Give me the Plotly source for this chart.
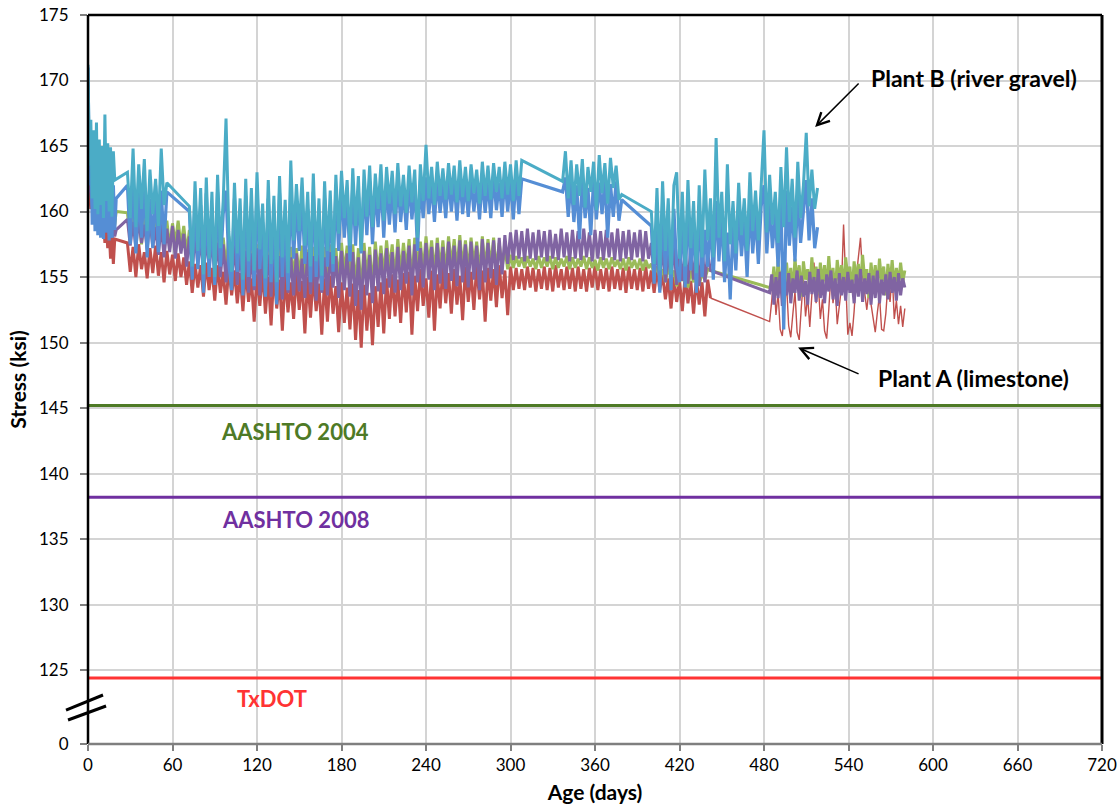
import plotly.graph_objects as go

# ---------------- data (Age in days, Stress in ksi) ----------------
# each segment: (start_day, step_days, values)
red_seg1 = [163.0, 161.5, 160.2, 160.8, 159.6, 160.1, 159.0, 159.6, 158.5, 159.3, 158.2, 159.2, 157.6, 158.8,
            157.2, 158.6, 156.4, 158.2, 156.0, 157.9]
red_seg2 = [157.6, 155.4, 157.3, 155.0, 157.5, 155.6, 156.9, 154.9, 157.2, 155.3,
            157.4, 155.1, 156.9, 154.6, 157.0, 155.2, 156.7, 154.7, 156.8, 155.0,
            156.5, 154.4, 156.2, 153.8, 156.0, 154.2, 155.9, 153.5, 156.1, 154.0,
            155.7, 153.2, 155.9, 153.8, 155.4, 152.9, 155.8, 153.6, 155.5, 153.0,
            155.3, 152.4, 155.6, 153.1, 154.9, 151.6, 155.2, 152.8, 155.5, 152.2,
            155.0, 151.3, 155.4, 152.6, 154.8, 150.9, 155.1, 152.3, 154.6, 151.8,
            155.3, 152.5, 154.7, 150.7, 155.0, 151.9, 155.2, 152.4, 154.5, 150.6,
            154.9, 151.6, 155.1, 152.2, 154.3, 150.8, 154.6, 151.5, 154.2, 151.0,
            154.5, 150.2, 154.0, 149.6, 154.4, 150.9, 153.8, 149.8, 154.3, 151.2,
            154.6, 150.7, 154.9, 151.8, 155.2, 152.0, 154.8, 151.5, 155.3, 152.3,
            155.4, 150.6, 155.1, 152.4, 155.6, 152.8, 154.9, 151.9, 155.5, 150.9,
            155.2, 152.6, 155.7, 153.0, 155.3, 152.2, 155.6, 152.9, 155.1, 151.7,
            155.8, 153.1, 155.4, 152.5, 155.9, 153.3, 155.5, 151.6, 155.7, 153.2,
            155.6, 152.7, 155.9, 153.4, 155.5, 152.1, 155.8, 154.0, 155.7, 154.1,
            155.6, 154.0, 155.8, 154.2, 155.7, 153.9, 155.6, 154.1, 155.8, 154.0,
            155.7, 153.9, 155.9, 154.2, 155.6, 154.0, 155.8, 154.1, 155.7, 153.9,
            155.8, 154.1, 155.6, 153.9, 155.7, 154.2, 155.9, 154.0, 155.6, 154.1,
            155.7, 153.9, 155.8, 154.1, 155.6, 154.0, 155.7, 153.8, 155.8, 154.1,
            155.6, 154.0, 155.7, 153.9, 155.8, 154.1, 155.5, 153.8, 155.6, 154.0,
            155.2, 153.3, 154.9, 152.6, 155.0, 153.1, 154.8, 152.4, 155.1, 153.0,
            154.7, 152.2, 154.9, 152.9, 154.6, 152.0, 154.8, 153.4]
red_seg3 = [151.6, 153.2, 155.0, 152.1, 153.8, 151.0, 150.5, 152.6, 154.5, 151.3,
            150.4, 152.2, 153.9, 150.8, 150.2, 152.7, 154.8, 152.0, 153.5, 151.2,
            154.0, 156.1, 153.0, 154.6, 151.8, 153.3, 150.9, 150.3, 152.5, 155.2,
            153.0, 154.4, 151.4, 152.6, 154.2, 159.0, 154.0, 150.6, 151.5, 150.5,
            152.4, 155.0, 156.5, 158.0, 155.1, 153.7, 152.5, 154.0, 152.9, 151.6,
            150.8, 152.3, 153.6, 151.0, 150.9, 152.2, 154.5, 153.1, 155.3, 151.8,
            153.2, 151.4, 152.8, 151.2, 152.6]

green_seg1 = [169.7, 163.2, 162.8, 161.6, 161.0, 160.6, 160.5, 160.0, 160.2, 159.6, 159.9, 159.4, 159.8,
              159.3, 159.6, 159.2, 159.5, 159.1, 159.4, 159.0, 160.0]
green_seg2 = [159.9, 157.8, 160.0, 158.0, 159.7, 157.5, 159.8, 157.9, 159.5, 157.6,
              159.4, 157.3, 159.2, 157.6, 159.3, 157.2, 159.1, 157.5, 159.3, 157.4,
              158.9, 156.8, 158.6, 156.5, 158.7, 156.9, 158.4, 156.3, 158.5, 156.6,
              158.2, 156.1, 158.4, 156.4, 158.0, 155.8, 158.1, 156.0, 157.8, 155.6,
              157.9, 155.5, 157.6, 155.2, 157.8, 155.6, 157.5, 155.0, 157.7, 155.4,
              157.4, 154.8, 157.6, 155.3, 157.2, 154.6, 157.5, 155.1, 157.3, 154.9,
              157.2, 155.0, 157.4, 154.7, 157.1, 155.2, 157.3, 154.5, 157.0, 154.9,
              157.3, 155.1, 157.5, 155.4, 157.2, 154.6, 157.6, 155.3, 157.4, 154.8,
              157.5, 154.2, 157.2, 153.6, 157.6, 154.9, 157.3, 154.0, 157.7, 155.2,
              157.4, 155.0, 157.8, 155.5, 157.5, 154.8, 157.9, 155.3, 157.6, 155.6,
              157.9, 154.5, 158.0, 155.8, 157.7, 155.4, 158.1, 155.9, 157.8, 155.2,
              158.0, 155.6, 157.8, 155.3, 158.1, 155.8, 157.9, 155.5, 158.2, 155.7,
              157.8, 155.4, 158.0, 155.9, 157.7, 155.2, 158.1, 155.6, 157.9, 155.8,
              158.0, 155.5, 157.6, 155.7, 157.2, 155.6, 156.7, 155.7, 156.6, 155.8,
              156.5, 155.7, 156.6, 155.8, 156.4, 155.6, 156.6, 155.7, 156.5, 155.8,
              156.6, 155.6, 156.5, 155.7, 156.4, 155.8, 156.6, 155.6, 156.5, 155.7,
              156.4, 155.8, 156.6, 155.6, 156.5, 155.7, 156.3, 155.5, 156.5, 155.7,
              156.4, 155.6, 156.5, 155.8, 156.3, 155.6, 156.4, 155.5, 156.5, 155.7,
              156.3, 155.6, 156.4, 155.5, 156.3, 155.7, 156.0, 155.2, 155.8, 155.0,
              155.6, 154.6, 155.8, 154.9, 155.5, 154.3, 155.6, 154.7, 155.4, 154.2,
              155.5, 154.6, 155.7, 154.4, 155.3, 154.8, 155.6, 155.5]
green_seg3 = [154.2, 154.0, 155.8, 153.6, 156.3, 154.4, 155.5, 153.2, 156.1, 154.2,
              155.7, 153.8, 156.4, 154.6, 155.9, 153.5, 156.2, 154.8, 155.6, 153.9,
              156.5, 154.3, 155.8, 153.7, 156.1, 154.5, 155.9, 154.0, 156.6, 154.4,
              155.7, 153.6, 156.3, 154.7, 155.9, 154.1, 156.5, 154.9, 155.8, 153.8,
              156.2, 154.6, 156.0, 154.2, 156.7, 154.8, 155.6, 153.4, 156.1, 154.3,
              155.9, 154.0, 156.4, 154.7, 155.8, 153.6, 156.0, 154.5, 156.3, 154.2,
              155.7, 154.4, 156.1, 154.6, 155.5]

purple_seg1 = [165.0, 162.0, 161.4, 160.4, 160.8, 159.5, 160.2, 159.2, 159.8, 158.8, 159.5, 158.6, 159.2,
               158.4, 159.0, 158.2, 158.9, 158.0, 158.8, 158.1, 158.6]
purple_seg2 = [159.4, 157.4, 159.2, 157.2, 159.5, 157.6, 159.0, 157.1, 159.3, 157.3,
               158.8, 156.7, 159.0, 156.5, 158.7, 156.9, 158.9, 156.4, 158.6, 156.8,
               158.3, 155.8, 158.1, 155.5, 158.2, 155.9, 157.9, 155.4, 158.0, 155.7,
               157.8, 155.2, 157.6, 155.0, 157.5, 154.6, 157.3, 154.9, 157.4, 154.4,
               157.1, 154.2, 157.0, 153.8, 156.8, 154.0, 157.2, 153.6, 156.9, 154.1,
               156.7, 153.5, 157.0, 154.0, 156.6, 153.3, 156.9, 153.8, 156.5, 153.6,
               156.8, 153.9, 156.4, 153.4, 156.9, 153.7, 156.6, 153.2, 156.7, 153.8,
               156.5, 153.6, 156.9, 154.2, 156.6, 153.4, 157.0, 154.0, 156.8, 153.5,
               156.9, 152.8, 156.5, 152.5, 157.0, 153.6, 156.7, 153.0, 157.1, 153.9,
               156.8, 153.7, 157.2, 154.2, 156.9, 153.8, 157.3, 154.0, 157.0, 154.5,
               157.4, 153.6, 157.5, 154.6, 157.2, 154.2, 157.6, 154.8, 157.3, 154.0,
               157.6, 154.5, 157.3, 154.1, 157.7, 154.7, 157.4, 154.3, 157.8, 154.6,
               157.5, 154.2, 157.7, 154.8, 157.4, 154.0, 157.9, 154.6, 157.6, 154.9,
               157.8, 154.4, 158.0, 155.2, 158.2, 156.0, 158.4, 156.3, 158.6, 156.4,
               158.5, 156.2, 158.7, 156.4, 158.4, 156.3, 158.6, 156.5, 158.5, 156.2,
               158.6, 156.4, 158.3, 156.3, 158.7, 156.5, 158.4, 156.2, 158.6, 156.4,
               158.5, 156.3, 158.7, 156.5, 158.4, 156.2, 158.6, 156.4, 158.5, 156.3,
               158.6, 156.5, 158.4, 156.3, 158.7, 156.2, 158.5, 156.4, 158.6, 156.3,
               158.4, 156.5, 158.6, 156.2, 158.5, 156.4, 157.6, 155.0, 157.2, 154.8,
               157.4, 154.6, 157.0, 154.9, 157.5, 154.4, 157.2, 154.7, 156.9, 154.5,
               157.3, 154.8, 157.0, 154.3, 157.4, 154.6, 156.8, 155.5]
purple_seg3 = [153.8, 155.2, 152.9, 155.0, 153.4, 155.4, 152.8, 154.8, 153.6, 155.3,
               153.0, 154.9, 153.8, 155.5, 153.2, 155.1, 153.5, 154.7, 152.9, 155.4,
               153.7, 155.0, 153.1, 155.6, 153.4, 154.8, 153.0, 155.2, 153.9, 155.5,
               153.3, 154.9, 152.8, 155.3, 153.6, 155.0, 153.2, 155.4, 153.8, 154.8,
               153.0, 155.2, 153.5, 155.6, 153.1, 154.9, 153.7, 155.3, 152.9, 155.1,
               153.4, 155.5, 153.0, 154.8, 153.6, 155.2, 153.3, 155.4, 153.8, 155.0,
               153.2, 155.3, 153.6, 154.9, 154.2]

blue_seg1 = [171.0, 162.0, 165.5, 159.0, 164.0, 158.5, 163.8, 158.2, 165.0, 158.0, 163.0, 157.9, 164.2,
             158.4, 162.5, 157.8, 163.5, 158.0, 162.0, 158.6, 161.0]
blue_seg2 = [162.0, 157.5, 162.8, 156.8, 161.5, 158.0, 162.4, 156.5, 161.0, 157.2, 162.0, 156.9, 161.6,
             157.5, 161.5]
blue_seg3 = [160.0, 154.8, 161.2, 155.6, 160.5, 153.8, 161.4, 155.0, 160.2, 154.4,
             161.5, 155.8, 159.8, 161.6, 156.0, 154.0, 161.0, 155.4, 159.5, 153.6,
             161.2, 155.0, 160.4, 154.3, 161.5, 155.6, 159.2, 153.5, 161.0, 154.6,
             159.8, 152.9, 161.4, 155.0, 159.6, 154.0, 161.8, 156.4, 160.8, 157.0,
             161.2, 156.0, 160.2, 154.6, 161.5, 155.0, 159.8, 154.0, 161.0, 155.8,
             160.4, 155.4, 161.5, 157.0, 161.8, 158.0, 161.2, 156.2, 162.0, 157.4,
             161.5, 156.8, 162.0, 158.2, 162.3, 157.5, 161.8, 158.8, 162.4, 158.0,
             162.2, 159.0, 161.9, 158.4, 162.5, 159.2, 161.7, 158.6, 162.3, 159.4,
             162.0, 157.0, 162.4, 159.5, 162.6, 159.8, 162.2, 159.2, 162.5, 159.9,
             162.1, 159.5, 162.6, 160.0, 162.3, 159.3, 162.7, 159.8, 162.2, 159.6,
             162.5, 160.0, 162.1, 159.4, 162.6, 159.9, 162.3, 159.5, 162.7, 160.1,
             162.2, 159.6, 162.6, 160.0, 162.4, 159.4, 162.7, 159.8, 162.5]
blue_seg4 = [161.5, 162.6, 159.6, 162.3, 159.2, 162.0, 157.9, 162.4, 159.5, 161.8, 158.2,
             162.5, 159.4, 162.2, 159.8, 162.4, 158.0, 162.1, 159.6, 162.3, 159.3, 160.9]
blue_seg5 = [158.9, 154.5, 160.0, 153.8, 160.5, 155.2, 159.4, 154.0, 160.2, 155.8,
             154.6, 160.0, 154.2, 160.6, 155.5, 159.2, 153.8, 160.4, 155.0, 158.6,
             155.8, 159.5, 154.8, 160.8, 156.2, 159.8, 154.6, 158.4, 153.3, 159.0,
             155.5, 160.2, 156.6, 159.4, 155.0, 160.6, 156.8, 159.8, 156.0, 160.4,
             162.0, 156.8, 160.6, 157.2, 159.8, 155.8, 161.0, 151.0, 161.6, 157.4,
             160.4, 156.2, 161.4, 157.6, 160.2, 162.4, 157.8, 161.0, 157.2, 158.8]

cyan_seg1 = [171.2, 163.5, 167.0, 161.0, 166.2, 160.2, 166.8, 159.8, 165.5, 160.5, 165.0, 159.5, 167.4,
             160.8, 165.2, 160.0, 164.9, 159.6, 164.6, 162.4]
cyan_seg2 = [163.0, 159.5, 164.8, 158.8, 163.6, 160.2, 164.0, 158.5, 163.2, 159.8, 162.5, 158.9, 164.8,
             160.5, 162.2]
cyan_seg3 = [160.4, 155.8, 162.3, 157.0, 161.8, 155.2, 162.6, 156.4, 161.5, 155.0,
             162.8, 157.2, 160.8, 167.1, 158.5, 155.4, 162.2, 156.8, 161.0, 154.8,
             162.5, 156.2, 161.8, 155.5, 163.0, 157.1, 160.6, 154.9, 162.4, 156.0,
             161.2, 154.6, 162.7, 156.5, 160.9, 155.3, 163.9, 157.8, 162.1, 158.5,
             162.6, 157.4, 161.5, 155.8, 162.9, 156.2, 161.0, 155.1, 162.3, 157.0,
             161.6, 156.0, 162.8, 158.3, 163.1, 159.5, 162.4, 157.4, 163.3, 158.9,
             162.7, 157.0, 163.2, 159.6, 163.5, 158.8, 162.9, 160.2, 163.6, 159.3,
             163.4, 160.6, 163.1, 159.8, 163.7, 160.4, 162.8, 159.9, 163.5, 160.7,
             163.2, 158.0, 163.6, 160.8, 165.1, 161.0, 163.4, 160.5, 163.8, 161.2,
             163.3, 160.9, 163.7, 161.3, 163.5, 160.7, 163.9, 161.1, 163.4, 160.8,
             163.6, 161.4, 163.2, 160.6, 163.8, 161.2, 163.5, 160.9, 163.7, 161.5,
             163.4, 161.0, 163.8, 161.3, 163.6, 160.8, 163.9, 161.2, 163.9]
cyan_seg4 = [162.3, 164.6, 161.0, 163.9, 160.5, 163.6, 161.2, 164.0, 160.3, 163.4, 161.5,
             163.8, 160.1, 164.3, 161.4, 163.7, 160.6, 164.1, 161.8, 163.5, 160.9, 161.3]
cyan_seg5 = [160.0, 156.0, 161.8, 155.5, 162.3, 157.0, 161.0, 155.2, 162.0, 163.0,
             156.4, 161.5, 155.8, 162.4, 157.2, 160.8, 155.3, 162.0, 156.5, 163.2,
             157.8, 161.0, 156.5, 165.6, 158.0, 161.5, 156.2, 163.6, 157.5, 160.8,
             156.8, 162.2, 158.2, 161.0, 157.0, 163.0, 158.5, 161.6, 157.8, 162.6,
             166.2, 158.4, 162.8, 159.0, 161.5, 157.6, 163.4, 158.8, 164.9, 159.2,
             162.5, 158.0, 163.8, 159.5, 162.0, 166.0, 160.4, 163.2, 160.2, 161.8]

# traces: (name, colour, line width, segments)
series_names = ["Plant A red (late)", "Plant A red", "Plant A green", "Plant A purple",
                "Plant B blue", "Plant B cyan"]
series_colors = ["#c0504d", "#c0504d", "#9bbb59", "#8064a2", "#558ed5", "#4bacc6"]
series_widths = [1.4, 3.0, 3.0, 3.0, 3.2, 3.0]
series_segments = [
    [(442, 1, [red_seg2[-1]]), (484, 1.5, red_seg3)],
    [(0, 1, red_seg1), (28, 2, red_seg2)],
    [(0, 1, green_seg1), (28, 2, green_seg2), (484, 1.5, green_seg3)],
    [(0, 1, purple_seg1), (28, 2, purple_seg2), (484, 1.5, purple_seg3)],
    [(0, 1, blue_seg1), (28, 2, blue_seg2), (72, 2, blue_seg3), (337, 2, blue_seg4), (400, 2, blue_seg5)],
    [(0, 1, cyan_seg1), (28, 2, cyan_seg2), (72, 2, cyan_seg3), (337, 2, cyan_seg4), (400, 2, cyan_seg5)],
]

limit_names = ["AASHTO 2004", "AASHTO 2008", "TxDOT"]
limit_values = [145.2, 138.2, 124.4]
limit_colors = ["#4e7a26", "#7030a0", "#ff3333"]
limit_label_x = [147, 147, 131]
limit_label_y = [143.2, 136.5, 122.8]

x_ticks = [0, 60, 120, 180, 240, 300, 360, 420, 480, 540, 600, 660, 720]
y_break = 119.36          # axis bottom (broken axis, labelled 0)
y_ticks = [y_break, 125, 130, 135, 140, 145, 150, 155, 160, 165, 170, 175]
y_ticktext = ["0", "125", "130", "135", "140", "145", "150", "155", "160", "165", "170", "175"]

FONT = "Lato, Carlito, Calibri, 'Noto Sans', sans-serif"

fig = go.Figure()

for name, color, width, segs in zip(series_names, series_colors, series_widths, series_segments):
    xs, ys = [], []
    for start, step, vals in segs:
        for i, v in enumerate(vals):
            xs.append(start + step * i)
            ys.append(v)
    fig.add_trace(go.Scatter(x=xs, y=ys, mode="lines", name=name,
                             line=dict(color=color, width=width), showlegend=False))

for name, val, color in zip(limit_names, limit_values, limit_colors):
    fig.add_trace(go.Scatter(x=[0, 720], y=[val, val], mode="lines", name=name,
                             line=dict(color=color, width=3), showlegend=False))

for name, color, lx, ly in zip(limit_names, limit_colors, limit_label_x, limit_label_y):
    fig.add_annotation(x=lx, y=ly, text=name, showarrow=False,
                       font=dict(family=FONT, size=22, color=color, weight="bold"))

# plant labels with arrows
fig.add_annotation(x=629, y=170.2, text="Plant B (river gravel)", showarrow=False,
                   font=dict(family=FONT, size=23, color="black", weight="bold"))
fig.add_annotation(x=516.3, y=166.45, text="", showarrow=True, ax=45, ay=-45,
                   arrowhead=5, arrowsize=1.6, arrowwidth=1.5, arrowcolor="black", standoff=0)
fig.add_annotation(x=628.5, y=147.3, text="Plant A (limestone)", showarrow=False,
                   font=dict(family=FONT, size=23, color="black", weight="bold"))
fig.add_annotation(x=504.2, y=149.62, text="", showarrow=True, ax=62, ay=27,
                   arrowhead=5, arrowsize=1.6, arrowwidth=1.5, arrowcolor="black", standoff=0)

# frame
fig.add_shape(type="line", xref="paper", yref="paper", x0=0, x1=1, y0=1, y1=1,
              line=dict(color="black", width=2.5), layer="above")
fig.add_shape(type="line", xref="paper", yref="paper", x0=0, x1=0, y0=0, y1=1,
              line=dict(color="black", width=2.5), layer="above")
fig.add_shape(type="line", xref="paper", yref="paper", x0=1, x1=1, y0=0, y1=1,
              line=dict(color="black", width=3), layer="above")
fig.add_shape(type="line", xref="paper", yref="paper", x0=0, x1=1, y0=0, y1=0,
              line=dict(color="#7f7f7f", width=2.5), layer="above")
# axis break marks
fig.add_shape(type="line", xref="paper", yref="paper", x0=-0.0217, x1=0.0148, y0=0.0466, y1=0.0672,
              line=dict(color="black", width=3), layer="above")
fig.add_shape(type="line", xref="paper", yref="paper", x0=-0.0197, x1=0.0178, y0=0.0329, y1=0.0521,
              line=dict(color="black", width=3), layer="above")

fig.update_layout(
    width=1120, height=808,
    margin=dict(l=88, r=18, t=15, b=64, autoexpand=False),
    paper_bgcolor="white", plot_bgcolor="white",
    font=dict(family=FONT, size=17, color="black"),
    showlegend=False,
    xaxis=dict(range=[0, 720], tickvals=x_ticks, showgrid=True, gridcolor="#d4d4d4", gridwidth=1.5,
               zeroline=False, showline=False, ticks="outside", ticklen=6, tickcolor="#808080",
               tickwidth=1.5, tickfont=dict(size=17), automargin=False,
               title=dict(text="Age (days)", font=dict(size=21, weight="bold"), standoff=10)),
    yaxis=dict(range=[y_break, 175], tickvals=y_ticks, ticktext=y_ticktext, showgrid=True,
               gridcolor="#d4d4d4", gridwidth=1.5, zeroline=False, showline=False, ticks="outside",
               ticklen=7, tickcolor="#808080", tickwidth=1.5, tickfont=dict(size=17), automargin=False,
               ticklabelstandoff=8,
               title=dict(text="Stress (ksi)", font=dict(size=21, weight="bold"), standoff=6)),
)

fig.write_html("out.html")
